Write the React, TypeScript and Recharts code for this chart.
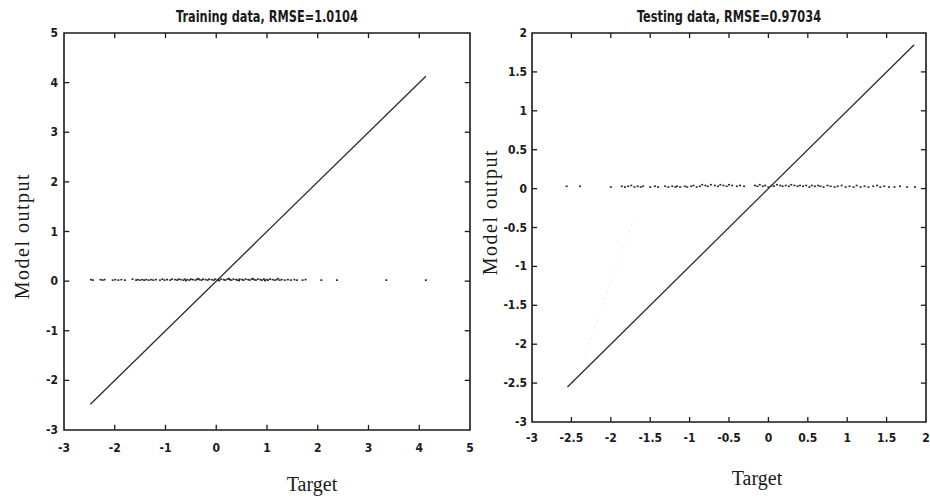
import React from 'react';
import { ComposedChart, Scatter, XAxis, YAxis, ReferenceArea } from 'recharts';

// target vs model output
const trainPoints: [number, number][] = [
  [-2.47, 0.03], [-2.43, 0.02], [-2.28, 0.03], [-2.24, 0.02], [-2.2, 0.03], [-2.04, 0.02], [-1.99, 0.03],
  [-1.93, 0.02], [-1.87, 0.03], [-1.8, 0.02], [-1.65, 0.04],
  [-1.58, 0.02], [-1.55, 0.03], [-1.51, 0.02], [-1.46, 0.03], [-1.42, 0.02], [-1.38, 0.03], [-1.33, 0.02],
  [-1.28, 0.03], [-1.24, 0.02], [-1.19, 0.03],
  [-1.11, 0.02], [-1.06, 0.04], [-1.02, 0.02], [-0.97, 0.03], [-0.91, 0.02], [-0.87, 0.04],
  [-0.81, 0.03], [-0.77, 0.02], [-0.74, 0.04], [-0.7, 0.03], [-0.65, 0.02], [-0.62, 0.04], [-0.6, 0.01],
  [-0.57, 0.03], [-0.53, 0.02], [-0.5, 0.04], [-0.46, 0.03], [-0.41, 0.02], [-0.38, 0.04], [-0.35, 0.05],
  [-0.33, 0.03], [-0.29, 0.02], [-0.26, 0.04], [-0.21, 0.03], [-0.17, 0.02], [-0.14, 0.04], [-0.09, 0.03],
  [-0.05, 0.02], [-0.02, 0.04], [0.03, 0.03], [0.05, 0.01], [0.06, 0.02], [0.1, 0.04], [0.15, 0.03],
  [0.18, 0.02], [0.22, 0.04], [0.25, 0.05], [0.27, 0.03], [0.3, 0.02], [0.34, 0.04], [0.39, 0.03],
  [0.42, 0.02], [0.45, 0.01], [0.46, 0.04], [0.51, 0.03], [0.54, 0.02], [0.58, 0.04], [0.63, 0.03],
  [0.66, 0.02], [0.7, 0.04], [0.72, 0.05], [0.75, 0.03], [0.78, 0.02], [0.82, 0.04], [0.87, 0.03],
  [0.9, 0.02], [0.94, 0.04], [0.96, 0.01], [0.99, 0.03], [1.02, 0.02], [1.06, 0.04], [1.11, 0.03],
  [1.15, 0.02], [1.19, 0.03], [1.22, 0.05], [1.25, 0.02], [1.29, 0.03], [1.35, 0.02], [1.41, 0.03],
  [1.47, 0.02], [1.54, 0.03], [1.59, 0.02], [1.7, 0.02], [1.76, 0.03], [2.07, 0.02], [2.38, 0.02],
  [3.35, 0.02], [4.13, 0.02],
];

const testPoints: [number, number][] = [
  [-2.56, 0.03], [-2.39, 0.03], [-2.0, 0.02],
  [-1.86, 0.03], [-1.82, 0.02], [-1.78, 0.03], [-1.74, 0.04], [-1.7, 0.02], [-1.66, 0.03], [-1.62, 0.02],
  [-1.59, 0.03], [-1.5, 0.02], [-1.44, 0.03], [-1.4, 0.02],
  [-1.31, 0.03], [-1.27, 0.02], [-1.22, 0.03], [-1.18, 0.02], [-1.16, 0.03], [-1.12, 0.02],
  [-1.06, 0.03], [-1.03, 0.02], [-0.98, 0.03], [-0.95, 0.04], [-0.91, 0.02], [-0.87, 0.03], [-0.84, 0.05],
  [-0.8, 0.04], [-0.77, 0.03], [-0.73, 0.05],
  [-0.68, 0.04], [-0.64, 0.03], [-0.61, 0.05], [-0.57, 0.04], [-0.53, 0.03], [-0.5, 0.05], [-0.46, 0.04],
  [-0.4, 0.03], [-0.36, 0.04], [-0.31, 0.03],
  [-0.17, 0.04], [-0.14, 0.03], [-0.11, 0.05], [-0.07, 0.03], [-0.04, 0.04], [0.0, 0.02], [0.04, 0.04],
  [0.07, 0.03], [0.11, 0.05], [0.15, 0.04], [0.18, 0.03], [0.22, 0.04], [0.26, 0.03], [0.29, 0.05],
  [0.33, 0.04], [0.37, 0.03], [0.4, 0.04], [0.44, 0.03], [0.48, 0.04], [0.52, 0.02], [0.55, 0.04],
  [0.59, 0.03], [0.63, 0.04], [0.66, 0.03], [0.7, 0.02], [0.75, 0.04], [0.79, 0.03], [0.84, 0.02],
  [0.88, 0.03], [0.93, 0.04], [0.98, 0.02], [1.03, 0.03], [1.08, 0.02], [1.12, 0.04], [1.17, 0.02],
  [1.22, 0.03], [1.27, 0.02], [1.33, 0.03], [1.38, 0.04], [1.42, 0.02], [1.47, 0.03], [1.53, 0.02],
  [1.6, 0.02], [1.67, 0.03], [1.76, 0.02], [1.86, 0.02],
];

// y = x reference line, from min to max target
const trainFitX = [-2.48, 4.13];
const testFitX = [-2.55, 1.85];
// faint dotted trace in the testing panel
const testGhostX = [-2.33, -1.71];
const testGhostY = [-2.14, -0.39];

const trainXTicks = [-3, -2, -1, 0, 1, 2, 3, 4, 5];
const trainYTicks = [-3, -2, -1, 0, 1, 2, 3, 4, 5];
const testXTicks = [-3, -2.5, -2, -1.5, -1, -0.5, 0, 0.5, 1, 1.5, 2];
const testYTicks = [-3, -2.5, -2, -1.5, -1, -0.5, 0, 0.5, 1, 1.5, 2];

const NARROW = '"Liberation Sans Narrow", "Arial Narrow", "DejaVu Sans Condensed", "Liberation Sans", Arial, sans-serif';
const SERIF = '"Liberation Serif", "Times New Roman", serif';
const INK = '#1a1a1a';
// inward tick length as a share of the axis range
const TICK_SHARE = 0.013;

const labelFont = { fontSize: 12, fontWeight: 'bold' as const, fill: INK, fontFamily: NARROW };

const BottomLabel = (gap: number) => (props: any) => (
  <text x={props.x} y={props.y + gap} textAnchor="middle" dominantBaseline="hanging" {...labelFont}>
    {props.payload.value}
  </text>
);
const LeftLabel = (gap: number) => (props: any) => (
  <text x={props.x - gap} y={props.y} textAnchor="end" dominantBaseline="central" {...labelFont}>
    {props.payload.value}
  </text>
);

const Dot = (props: any) => (
  <rect x={props.cx - 1} y={props.cy - 0.8} width={2} height={1.6} fill="#262626" />
);
const NoShape = () => <g />;

const toXY = (pts: [number, number][]) => pts.map(([x, y]) => ({ x, y }));

// two-point segments for the box tick marks, all four sides
const boxTicks = (xTicks: number[], yTicks: number[]) => {
  const [x0, x1] = [xTicks[0], xTicks[xTicks.length - 1]];
  const [y0, y1] = [yTicks[0], yTicks[yTicks.length - 1]];
  const lx = (x1 - x0) * TICK_SHARE;
  const ly = (y1 - y0) * TICK_SHARE;
  const eps = 0.0005;
  const segs: { x: number; y: number }[][] = [];
  xTicks.slice(1, -1).forEach((t) => {
    segs.push([{ x: t, y: y0 + (y1 - y0) * eps }, { x: t, y: y0 + ly }]);
    segs.push([{ x: t, y: y1 - (y1 - y0) * eps }, { x: t, y: y1 - ly }]);
  });
  yTicks.slice(1, -1).forEach((t) => {
    segs.push([{ x: x0 + (x1 - x0) * eps, y: t }, { x: x0 + lx, y: t }]);
    segs.push([{ x: x1 - (x1 - x0) * eps, y: t }, { x: x1 - lx, y: t }]);
  });
  return segs;
};

interface PanelProps {
  left: number;
  width: number;
  margin: { top: number; right: number; bottom: number; left: number };
  xTicks: number[];
  yTicks: number[];
  points: [number, number][];
  fitX: number[];
  ghost?: { x: number[]; y: number[] };
  xGap: number;
  yGap: number;
}

const Panel: React.FC<PanelProps> = ({ left, width, margin, xTicks, yTicks, points, fitX, ghost, xGap, yGap }) => {
  const [x0, x1] = [xTicks[0], xTicks[xTicks.length - 1]];
  const [y0, y1] = [yTicks[0], yTicks[yTicks.length - 1]];
  const fit = fitX.map((v) => ({ x: v, y: v }));
  const ghostData = ghost ? ghost.x.map((v, i) => ({ x: v, y: ghost.y[i] })) : [];
  const common = {
    type: 'number' as const,
    allowDataOverflow: true,
    interval: 0 as const,
    tickSize: 0,
    tickMargin: 0,
    axisLine: false,
    tickLine: false,
  };
  return (
    <div style={{ position: 'absolute', left, top: 0 }}>
      <ComposedChart width={width} height={500} margin={margin}>
        <XAxis {...common} dataKey="x" domain={[x0, x1]} ticks={xTicks} height={30} tick={BottomLabel(xGap)} />
        <YAxis {...common} dataKey="y" domain={[y0, y1]} ticks={yTicks} width={30} tick={LeftLabel(yGap)} />
        <ReferenceArea
          x1={x0}
          x2={x1}
          y1={y0}
          y2={y1}
          fill="none"
          fillOpacity={0}
          stroke={INK}
          strokeWidth={1.6}
          ifOverflow="visible"
        />
        {boxTicks(xTicks, yTicks).map((seg, i) => (
          <Scatter
            key={`tick-${i}`}
            data={seg}
            line={{ stroke: INK, strokeWidth: 1.3 }}
            shape={NoShape}
            isAnimationActive={false}
          />
        ))}
        {ghost && (
          <Scatter
            data={ghostData}
            line={{ stroke: '#dcdcdc', strokeWidth: 1, strokeDasharray: '1 5' }}
            shape={NoShape}
            isAnimationActive={false}
          />
        )}
        <Scatter data={toXY(points)} shape={Dot} isAnimationActive={false} />
        <Scatter data={fit} line={{ stroke: '#2b2b2b', strokeWidth: 1.3 }} shape={NoShape} isAnimationActive={false} />
      </ComposedChart>
    </div>
  );
};

const titleStyle: React.CSSProperties = {
  position: 'absolute',
  top: 9,
  transform: 'translateX(-50%) scaleX(0.84)',
  fontFamily: NARROW,
  fontWeight: 'bold',
  fontSize: 15,
  lineHeight: '16px',
  color: INK,
  whiteSpace: 'nowrap',
};

const labelStyle: React.CSSProperties = {
  position: 'absolute',
  fontFamily: SERIF,
  fontSize: 20,
  lineHeight: '22px',
  color: INK,
  whiteSpace: 'nowrap',
};

export default function App() {
  return (
    <div style={{ position: 'absolute', left: 0, top: 0, width: 930, height: 500, background: '#fff', overflow: 'hidden' }}>
      <Panel
        left={0}
        width={480}
        margin={{ top: 33, right: 10, bottom: 40, left: 34 }}
        xTicks={trainXTicks}
        yTicks={trainYTicks}
        points={trainPoints}
        fitX={trainFitX}
        xGap={13}
        yGap={6}
      />
      <Panel
        left={460}
        width={470}
        margin={{ top: 33, right: 4, bottom: 48, left: 42 }}
        xTicks={testXTicks}
        yTicks={testYTicks}
        points={testPoints}
        fitX={testFitX}
        ghost={{ x: testGhostX, y: testGhostY }}
        xGap={11}
        yGap={5}
      />
      <div style={{ ...titleStyle, left: 267 }}>Training data, RMSE=1.0104</div>
      <div style={{ ...titleStyle, left: 729 }}>Testing data, RMSE=0.97034</div>
      <div style={{ ...labelStyle, left: 22, top: 236, transform: 'translate(-50%, -50%) rotate(-90deg)', letterSpacing: 1.5 }}>
        Model output
      </div>
      <div style={{ ...labelStyle, left: 490, top: 212, transform: 'translate(-50%, -50%) rotate(-90deg)', letterSpacing: 1.5 }}>
        Model output
      </div>
      <div style={{ ...labelStyle, left: 312, top: 484, transform: 'translate(-50%, -50%)' }}>Target</div>
      <div style={{ ...labelStyle, left: 757, top: 478, transform: 'translate(-50%, -50%)' }}>Target</div>
    </div>
  );
}
